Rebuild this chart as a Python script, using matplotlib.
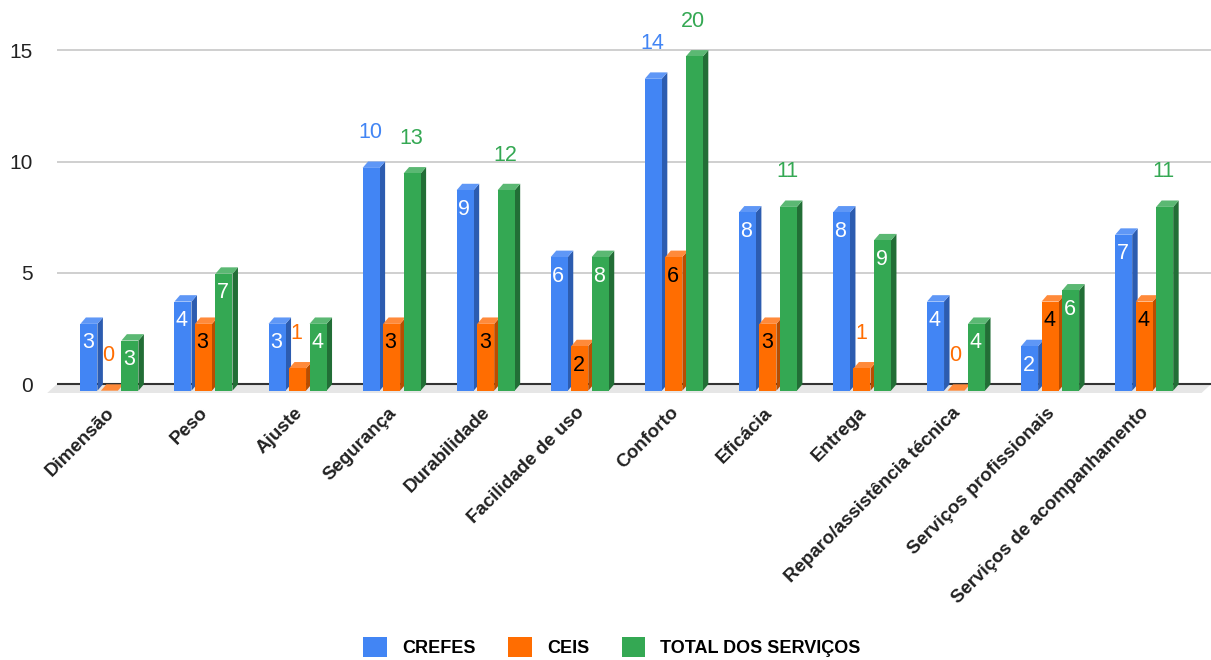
import matplotlib.pyplot as plt
from matplotlib.patches import Polygon, Patch

# data
categories = ["Dimensão", "Peso", "Ajuste", "Segurança", "Durabilidade", "Facilidade de uso",
              "Conforto", "Eficácia", "Entrega", "Reparo/assistência técnica",
              "Serviços profissionais", "Serviços de acompanhamento"]
crefes = [3, 4, 3, 10, 9, 6, 14, 8, 8, 4, 2, 7]
ceis = [0, 3, 1, 3, 3, 2, 6, 3, 1, 0, 4, 4]
total = [3, 7, 4, 13, 12, 8, 20, 11, 9, 4, 6, 11]
series_names = ["CREFES", "CEIS", "TOTAL DOS SERVIÇOS"]

# colours: front, side, top, text inside bar
BLUE = ("#4285f4", "#2c5cb0", "#5f97f6", "white")
ORANGE = ("#ff6d01", "#b84d00", "#ff8a3a", "black")
GREEN = ("#34a853", "#226e36", "#5bb873", "white")

plt.rcParams['font.family'] = ['Liberation Sans', 'DejaVu Sans']

W, H, DPI = 1211, 660, 100
fig = plt.figure(figsize=(W / DPI, H / DPI), dpi=DPI)

# layout in pixels
L, R, T, B = 40, 1211, 0, 398
x0_px, x_step = 109.4, 94.07      # centre of first group, spacing between groups
zero_px, y_step = 384.3, 22.28    # y of value 0, pixels per unit
BAR_W = 17 / x_step
SHIFT = 20.5 / x_step
DEPTH_X, DEPTH_Y = 5.5, 6.4       # 3d depth in pixels

ax = fig.add_axes([L / W, 1 - B / H, (R - L) / W, (B - T) / H])
ax.set_xlim((L - x0_px) / x_step, (R - x0_px) / x_step)
ax.set_ylim(-(B - zero_px) / y_step, (zero_px - T) / y_step)

# total is drawn on a secondary scale (20 there lines up with 15 on the main one)
total_scale = 0.75
ax2 = ax.twinx()
ax2.set_ylim(ax.get_ylim()[0] / total_scale, ax.get_ylim()[1] / total_scale)
ax2.axis('off')

# floor + grid
gx0 = (56.7 - x0_px) / x_step
gx1 = ax.get_xlim()[1]
fdx, fdy = 9.5 / x_step, 8.7 / y_step
ax.fill([gx0, gx1, gx1 - fdx, gx0 - fdx], [0, 0, -fdy, -fdy], color="#e6e6e6", lw=0, zorder=0)
ax.hlines([5, 10, 15], gx0, gx1, color="#cccccc", lw=1.3, zorder=0.5)
ax.hlines([0], gx0, gx1, color="#333333", lw=1.5, zorder=1)


def bars3d(axis, xs, vals, colors, px_y):
    front, side, top, _ = colors
    dx = DEPTH_X / x_step
    dy = DEPTH_Y / px_y
    axis.bar(xs, vals, width=BAR_W, bottom=-dy, color=front, linewidth=0, zorder=3)
    for x, v in zip(xs, vals):
        xl, xr = x - BAR_W / 2, x + BAR_W / 2
        axis.add_patch(Polygon([(xr, -dy), (xr + dx, 0), (xr + dx, v), (xr, v - dy)],
                               closed=True, facecolor=side, lw=0, zorder=2))
        axis.add_patch(Polygon([(xl, v - dy), (xl + dx, v), (xr + dx, v), (xr, v - dy)],
                               closed=True, facecolor=top, lw=0, zorder=2))


def bar_labels(axis, xs, vals, colors, px_y):
    front, _, _, inner = colors
    for x, v in zip(xs, vals):
        txt = str(v)
        if len(txt) == 1 and v * px_y > 30:
            axis.annotate(txt, (x, v), xytext=(-1, -DEPTH_Y - 19), textcoords='offset pixels',
                          ha='center', va='center', color=inner, fontsize=15.5, zorder=5)
        else:
            axis.annotate(txt, (x, v), xytext=(-1, 35 - DEPTH_Y), textcoords='offset pixels',
                          ha='center', va='center', color=front, fontsize=15.5, zorder=5)


pos = list(range(len(categories)))
x_crefes = [p - SHIFT for p in pos]
x_ceis = pos
x_total = [p + SHIFT for p in pos]

bars3d(ax, x_crefes, crefes, BLUE, y_step)
bars3d(ax, x_ceis, ceis, ORANGE, y_step)
bars3d(ax2, x_total, total, GREEN, y_step * total_scale)
bar_labels(ax, x_crefes, crefes, BLUE, y_step)
bar_labels(ax, x_ceis, ceis, ORANGE, y_step)
bar_labels(ax2, x_total, total, GREEN, y_step * total_scale)

# axes text
for s in ax.spines.values():
    s.set_visible(False)
ax.set_yticks([0, 5, 10, 15])
ax.tick_params(axis='y', length=0, pad=5, labelsize=15, labelcolor="#222222")
ax.set_xticks([p - 4 / x_step for p in pos])
ax.set_xticklabels(categories, rotation=45, ha='right', rotation_mode='anchor',
                   fontsize=13.5, fontweight='bold', color="#222222")
ax.tick_params(axis='x', length=0, pad=4.5)

handles = [Patch(facecolor=c[0], edgecolor='none') for c in (BLUE, ORANGE, GREEN)]
fig.legend(handles, series_names, loc='center', bbox_to_anchor=(612 / W, 1 - 647 / H),
           ncol=3, frameon=False, handlelength=1.3, handleheight=1.3, handletextpad=0.85,
           columnspacing=1.8, prop={'weight': 'bold', 'size': 13})

fig.savefig("out.png", dpi=DPI)
